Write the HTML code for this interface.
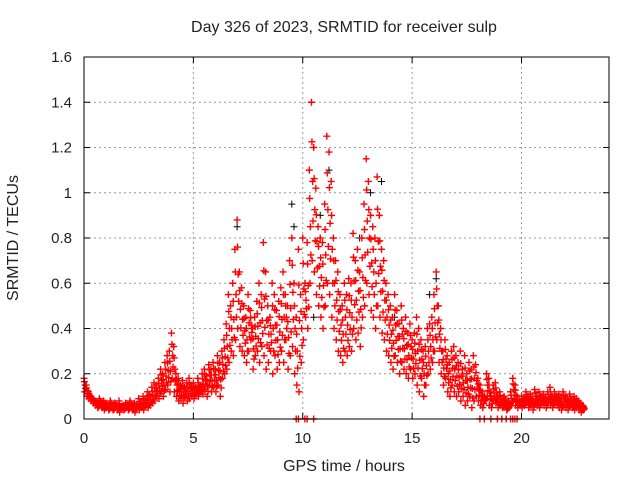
<!DOCTYPE html>
<html><head><meta charset="utf-8"><style>
body{margin:0;background:#fff}
svg text{font-family:"Liberation Sans",sans-serif;font-size:15px;fill:#222}
svg text.big{font-size:16px}
</style></head><body>
<svg id="chart" width="640" height="480" xmlns="http://www.w3.org/2000/svg">
<rect width="640" height="480" fill="#fff"/>
<g id="grid"></g>
<g id="marks"></g>
<rect x="84" y="57" width="525" height="362" fill="none" stroke="#000" stroke-width="1"/>
<g id="ticks"></g>
<text class="big" x="344" y="32" text-anchor="middle">Day 326 of 2023, SRMTID for receiver sulp</text>
<text class="big" x="344" y="471" text-anchor="middle">GPS time / hours</text>
<text class="big" x="18" y="238" text-anchor="middle" transform="rotate(-90 18 238)">SRMTID / TECUs</text>
</svg>
<script>
const xTicks=[0,5,10,15,20];
const yTicks=[0,0.2,0.4,0.6,0.8,1,1.2,1.4,1.6];
const yTickLabels=["0","0.2","0.4","0.6","0.8","1","1.2","1.4","1.6"];
const timeStep=0.1;
const seriesUpper=[.18,.15,.12,.10,.09,.08,.07,.09,.06,.08,
.07,.06,.08,.05,.07,.06,.08,.05,.06,.07,
.06,.08,.05,.07,.06,.09,.07,.10,.09,.12,
.11,.14,.16,.15,.18,.22,.20,.25,.28,.30,
.38,.32,.20,.18,.15,.17,.14,.16,.18,.15,
.16,.14,.18,.15,.20,.22,.19,.24,.22,.25,
.22,.28,.25,.30,.35,.42,.55,.50,.60,.75,
.88,.65,.58,.50,.45,.55,.48,.40,.45,.52,
.60,.55,.78,.65,.50,.45,.60,.55,.48,.52,
.58,.65,.55,.50,.70,.80,.60,.45,.75,.55,
.80,.60,.78,1.10,1.40,1.20,1.02,.85,.80,.78,
.95,1.25,1.18,1.05,.80,.70,.65,.55,.50,.60,
.55,.62,.60,.82,.70,.75,.65,.80,.95,1.15,
1.05,.90,.85,.80,1.07,.90,.75,.70,.60,.55,
.50,.45,.55,.48,.42,.50,.40,.45,.38,.42,
.35,.38,.45,.40,.35,.30,.32,.40,.42,.45,
.55,.65,.50,.40,.30,.35,.28,.25,.30,.32,
.28,.25,.30,.22,.28,.20,.25,.22,.28,.24,
.18,.15,.12,.10,.20,.18,.12,.15,.16,.10,
.12,.08,.10,.06,.08,.12,.18,.15,.10,.08,
.10,.09,.12,.10,.11,.09,.13,.10,.12,.10,
.11,.09,.12,.14,.10,.12,.10,.11,.09,.12,
.10,.09,.11,.08,.10,.09,.08,.07,.06];
const seriesLower=[.12,.10,.09,.08,.07,.06,.05,.06,.05,.04,
.05,.04,.05,.04,.05,.04,.03,.05,.04,.05,
.04,.05,.04,.03,.05,.04,.05,.04,.06,.05,
.06,.07,.08,.10,.09,.12,.10,.13,.15,.12,
.18,.12,.10,.08,.09,.07,.10,.08,.09,.10,
.09,.11,.10,.12,.11,.13,.10,.15,.12,.14,
.12,.15,.10,.18,.20,.22,.25,.30,.28,.35,
.40,.32,.30,.28,.25,.30,.35,.22,.28,.30,
.25,.32,.28,.22,.25,.30,.20,.28,.22,.25,
.30,.25,.35,.22,.28,.32,.20,.15,.12,.25,
.35,.45,.40,.60,.70,.65,.55,.50,.45,.40,
.50,.60,.55,.45,.40,.35,.30,.28,.25,.30,
.28,.32,.30,.40,.35,.38,.32,.45,.50,.60,
.55,.48,.45,.40,.50,.45,.38,.35,.30,.28,
.25,.22,.28,.25,.20,.25,.22,.20,.18,.22,
.18,.20,.15,.12,.18,.10,.15,.20,.22,.25,
.30,.35,.25,.20,.15,.18,.12,.10,.15,.12,
.10,.12,.08,.10,.06,.08,.10,.05,.08,.10,
.08,.06,.05,.08,.10,.06,.05,.08,.07,.05,
.06,.05,.07,.04,.05,.06,.08,.06,.05,.06,
.05,.06,.07,.05,.06,.04,.07,.06,.05,.07,
.06,.05,.07,.06,.05,.07,.06,.05,.04,.06,
.05,.04,.06,.05,.04,.05,.04,.03,.04];
const blackTimes=[6.9,7.0,9.5,9.6,10.5,10.8,11.2,12.6,13.1,13.6,14.2,15.8,16.1];
const blackValues=[0.75,0.85,0.95,0.85,0.45,0.9,1.1,0.8,1.0,1.05,0.45,0.55,0.62];
const zeroTimes=[9.7,9.8,10.1,10.2,10.5,18.1,18.3,18.6,18.9,19.1,19.3,19.5,19.6,19.7,19.8];

const X0=84,X1=609,Y0=419,Y1=57,XMAX=24,YMAX=1.6;
const sx=v=>X0+(X1-X0)*v/XMAX;
const sy=v=>Y0-(Y0-Y1)*v/YMAX;
const NS="http://www.w3.org/2000/svg";
function mk(tag,attrs,parent){const e=document.createElementNS(NS,tag);for(const k in attrs)e.setAttribute(k,attrs[k]);parent.appendChild(e);return e;}
const grid=document.getElementById('grid'),ticks=document.getElementById('ticks'),marks=document.getElementById('marks');
xTicks.forEach(t=>{const x=sx(t);
 if(t>0){const g=mk('line',{x1:x,x2:x,y1:Y1,y2:Y0,stroke:'#999','stroke-dasharray':'2,3'},grid);
 
 }
 const l=mk('text',{x:x,y:Y0+24,'text-anchor':'middle'},ticks);l.textContent=String(t);
 
 
 mk('line',{x1:x,x2:x,y1:Y0,y2:Y0-6,stroke:'#000'},ticks);mk('line',{x1:x,x2:x,y1:Y1,y2:Y1+6,stroke:'#000'},ticks);});
yTicks.forEach((t,i)=>{const y=sy(t);
 if(t>0&&t<YMAX){const g=mk('line',{x1:X0,x2:X1,y1:y,y2:y,stroke:'#999','stroke-dasharray':'2,3'},grid);
 
 }
 const l=mk('text',{x:X0-12,y:y+5,'text-anchor':'end'},ticks);l.textContent=yTickLabels[i];
 
 
 mk('line',{x1:X0,x2:X0+6,y1:y,y2:y,stroke:'#000'},ticks);mk('line',{x1:X1,x2:X1-6,y1:y,y2:y,stroke:'#000'},ticks);});
function plus(t,v){const x=sx(t),y=sy(v);return `M${x-3.5} ${y}h7M${x} ${y-3.5}v7`;}
let dB='';blackTimes.forEach((t,i)=>{dB+=plus(t,blackValues[i]);});
const pb=mk('path',{d:dB,stroke:'#000','stroke-width':1,fill:'none'},marks);


let dR='';
seriesUpper.forEach((v,i)=>{const t=i*timeStep,w=seriesLower[i];
 dR+=plus(t,v);
 dR+=plus(t+0.05,(v+w)/2);
 dR+=plus(t+0.02,v*0.75+w*0.25);
 dR+=plus(t+0.07,v*0.25+w*0.75);});
seriesLower.forEach((v,i)=>{dR+=plus(i*timeStep+0.03,v);});
zeroTimes.forEach(t=>{dR+=plus(t,0);});
const pr=mk('path',{d:dR,stroke:'#f00','stroke-width':1.4,fill:'none'},marks);


</script>
</body></html>
